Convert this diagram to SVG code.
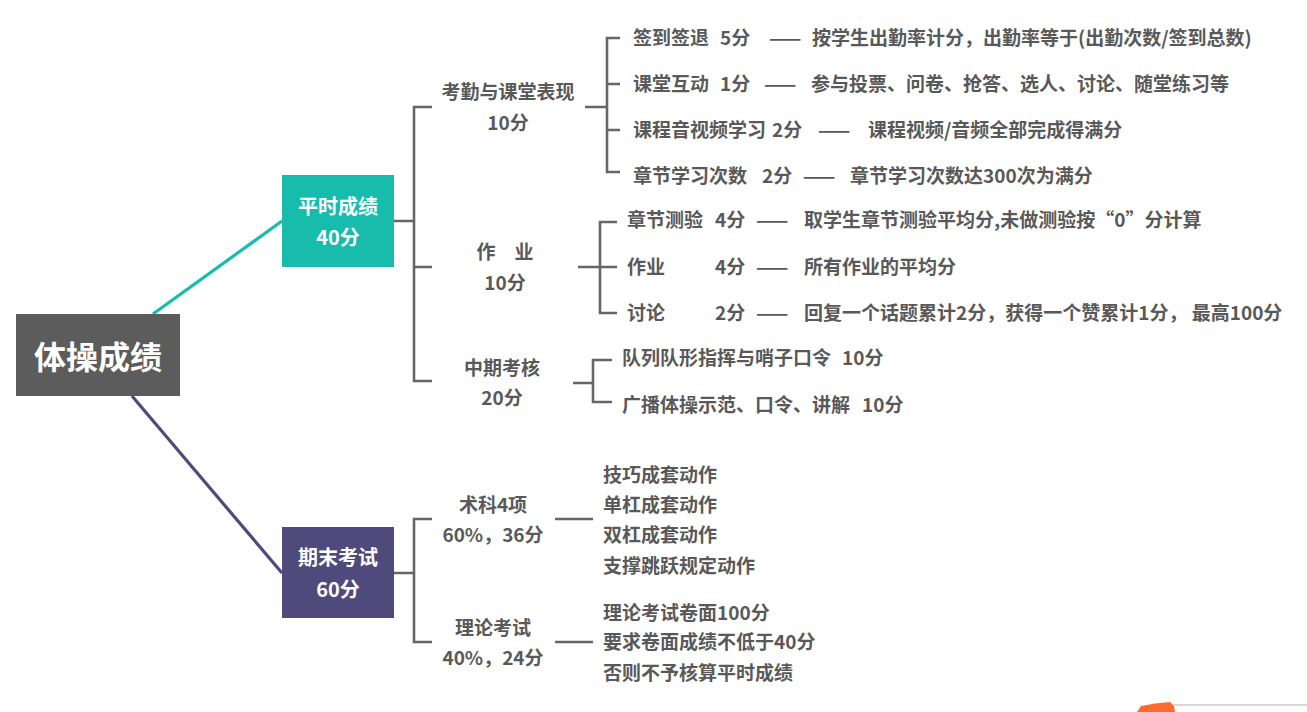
<svg xmlns="http://www.w3.org/2000/svg" width="1307" height="712" viewBox="0 0 1307 712">
<style>
.t{font-family:"Noto Sans CJK SC","Noto Sans",sans-serif;font-weight:700;font-size:19px;fill:#595959}
.c{text-anchor:middle}
.w{fill:#ffffff;font-size:20px}
.ln{stroke:#666666;stroke-width:2.6;fill:none}
</style>
<rect width="1307" height="712" fill="#ffffff"/>
<g id="connectors">
<line x1="153" y1="314" x2="282" y2="221" stroke="#17bcac" stroke-width="3.2"/>
<line x1="132" y1="396" x2="282" y2="573" stroke="#4f4a7c" stroke-width="3.2"/>
<path class="ln" d="M394,221H414M432,107H414V381H432M414,267H432"/>
<path class="ln" d="M585,107H607M620,38H607V172H620M607,84H620M607,130H620"/>
<path class="ln" d="M578,267H600M617,222H600V313H617M600,267H617"/>
<path class="ln" d="M573,383H593M612,360H593V402H612"/>
<path class="ln" d="M394,573H414M432,519H414V642H432"/>
<path class="ln" d="M555,519H593M555,642H593"/>
</g>
<g id="root">
<rect x="16" y="314" width="164" height="82" fill="#5c5c5c"/>
<text class="t c" x="98" y="369" style="font-size:32px;fill:#ffffff">体操成绩</text>
</g>
<g id="pingshi">
<rect x="282" y="175" width="112" height="92" fill="#17bcac"/>
<text class="t c w" x="338" y="214">平时成绩</text>
<text class="t c w" x="338" y="245">40分</text>
</g>
<g id="qimo">
<rect x="282" y="527" width="112" height="91" fill="#4f4a7c"/>
<text class="t c w" x="338" y="565">期末考试</text>
<text class="t c w" x="338" y="597">60分</text>
</g>
<g id="kaoqin">
<text class="t c" x="508" y="99">考勤与课堂表现</text>
<text class="t c" x="508" y="130">10分</text>
</g>
<g id="kaoqin-items">
<text class="t" y="45"><tspan x="633">签到签退</tspan><tspan x="720">5分</tspan><tspan x="769">——</tspan><tspan x="812">按学生出勤率计分，出勤率等于(出勤次数/签到总数)</tspan></text>
<text class="t" y="91"><tspan x="633">课堂互动</tspan><tspan x="720">1分</tspan><tspan x="764">——</tspan><tspan x="811">参与投票、问卷、抢答、选人、讨论、随堂练习等</tspan></text>
<text class="t" y="137"><tspan x="633">课程音视频学习</tspan><tspan x="772">2分</tspan><tspan x="818">——</tspan><tspan x="868">课程视频/音频全部完成得满分</tspan></text>
<text class="t" y="183"><tspan x="633">章节学习次数</tspan><tspan x="762">2分</tspan><tspan x="803">——</tspan><tspan x="850">章节学习次数达300次为满分</tspan></text>
</g>
<g id="zuoye">
<text class="t c" x="505" y="259" xml:space="preserve">作　业</text>
<text class="t c" x="505" y="290">10分</text>
</g>
<g id="zuoye-items">
<text class="t" y="227"><tspan x="627">章节测验</tspan><tspan x="715">4分</tspan><tspan x="756">——</tspan><tspan x="804">取学生章节测验平均分,未做测验按“0”分计算</tspan></text>
<text class="t" y="274"><tspan x="627">作业</tspan><tspan x="715">4分</tspan><tspan x="756">——</tspan><tspan x="804">所有作业的平均分</tspan></text>
<text class="t" y="320" xml:space="preserve"><tspan x="627">讨论</tspan><tspan x="715">2分</tspan><tspan x="756">——</tspan><tspan x="804">回复一个话题累计2分，获得一个赞累计1分， 最高100分</tspan></text>
</g>
<g id="qizhong">
<text class="t c" x="502" y="375">中期考核</text>
<text class="t c" x="502" y="405">20分</text>
</g>
<g id="qizhong-items">
<text class="t" y="365"><tspan x="622">队列队形指挥与哨子口令</tspan><tspan x="842">10分</tspan></text>
<text class="t" y="412"><tspan x="622">广播体操示范、口令、讲解</tspan><tspan x="862">10分</tspan></text>
</g>
<g id="shuke">
<text class="t c" x="493" y="512">术科4项</text>
<text class="t c" x="493" y="542">60%，36分</text>
</g>
<g id="shuke-items">
<text class="t" x="603" y="482">技巧成套动作</text>
<text class="t" x="603" y="512">单杠成套动作</text>
<text class="t" x="603" y="542">双杠成套动作</text>
<text class="t" x="603" y="573">支撑跳跃规定动作</text>
</g>
<g id="lilun">
<text class="t c" x="493" y="635">理论考试</text>
<text class="t c" x="493" y="665">40%，24分</text>
</g>
<g id="lilun-items">
<text class="t" x="603" y="620">理论考试卷面100分</text>
<text class="t" x="603" y="649">要求卷面成绩不低于40分</text>
<text class="t" x="603" y="680">否则不予核算平时成绩</text>
</g>
<line x1="1173" y1="705" x2="1307" y2="705" stroke="#b0b0b0" stroke-width="1"/>
<path d="M1137,712L1141,706Q1155,703 1170,702L1174,706L1175,712Z" fill="#ff6a2e"/>
</svg>
